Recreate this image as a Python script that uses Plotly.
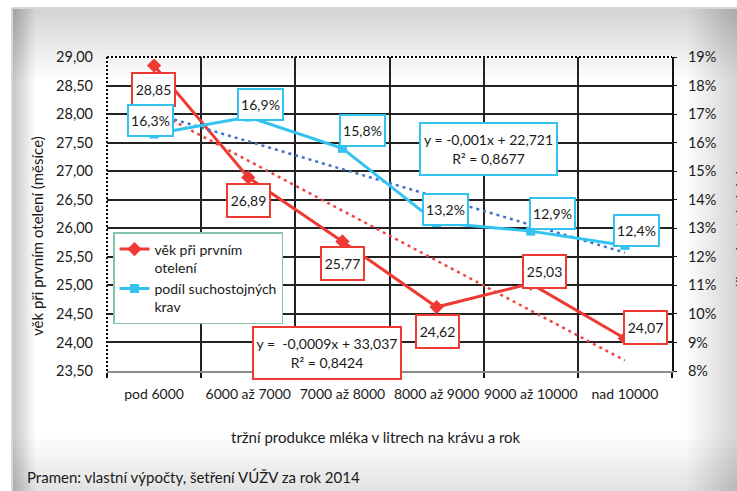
import numpy as np
import plotly.graph_objects as go

# --- data -------------------------------------------------------------
categories = ["pod 6000", "6000 až 7000", "7000 až 8000",
              "8000 až 9000", "9000 až 10000", "nad 10000"]
vek_otel = [28.85, 26.89, 25.77, 24.62, 25.03, 24.07]        # měsíce
podil_such = [16.3, 16.9, 15.8, 13.2, 12.9, 12.4]            # %

eq_vek = ["y =  -0,0009x + 33,037", "R² = 0,8424"]
eq_podil = ["y = -0,001x + 22,721", "R² = 0,8677"]

# --- style ------------------------------------------------------------
RED = "#EE3A33"
BLUE = "#33C3F0"
RED_TREND = "#F04444"
BLUE_TREND = "#4472C4"
FONT = "Lato"
TXT = "#1a1a1a"
W, H = 737, 491
L, R, T, B = 107, 672, 57, 371          # plot area in pixels

# label offsets (pixels) from each point
vek_off = [(-1, -24), (0, -23), (0, -22), (1, -24), (14, 12), (21, 11)]
podil_off = [(-4, 14), (12, 12), (20, 18), (9, 13), (22, 18), (12, 15)]


def px(x):
    return (x - L) / (R - L)


def py(y):
    return (B - y) / (B - T)


def comma(v, nd):
    return f"{v:.{nd}f}".replace(".", ",")


fig = go.Figure()

# linear trends
idx = np.arange(1, len(categories) + 1)
for vals, color, axis in [(vek_otel, RED_TREND, "y"), (podil_such, BLUE_TREND, "y2")]:
    k, q = np.polyfit(idx, vals, 1)
    fig.add_trace(go.Scatter(
        x=[categories[0], categories[-1]],
        y=[k * idx[0] + q, k * idx[-1] + q],
        mode="lines", yaxis=axis, showlegend=False, hoverinfo="skip",
        line=dict(color=color, width=2.5, dash="3px,4px"),
    ))

fig.add_trace(go.Scatter(
    x=categories, y=vek_otel, name="věk při prvním<br>otelení",
    mode="lines+markers", yaxis="y",
    line=dict(color=RED, width=3),
    marker=dict(symbol="diamond", size=11, color=RED),
))
fig.add_trace(go.Scatter(
    x=categories, y=podil_such, name="podíl suchostojných<br>krav",
    mode="lines+markers", yaxis="y2",
    line=dict(color=BLUE, width=3),
    marker=dict(symbol="square", size=9, color=BLUE),
))

annotations = []
for c, v, (dx, dy) in zip(categories, vek_otel, vek_off):
    annotations.append(dict(
        x=c, y=v, xref="x", yref="y", text=comma(v, 2), showarrow=False,
        xshift=dx, yshift=dy, width=41, height=31, borderpad=0,
        bordercolor=RED, borderwidth=2, bgcolor="white",
        font=dict(family=FONT, size=14, color=TXT),
    ))
for c, v, (dx, dy) in zip(categories, podil_such, podil_off):
    annotations.append(dict(
        x=c, y=v, xref="x", yref="y2", text=comma(v, 1) + "%", showarrow=False,
        xshift=dx, yshift=dy, width=43, height=29, borderpad=0,
        bordercolor=BLUE, borderwidth=2, bgcolor="white",
        font=dict(family=FONT, size=14, color=TXT),
    ))


def note(x, y, text, size=15, **kw):
    d = dict(x=px(x), y=py(y), xref="paper", yref="paper", showarrow=False,
             xanchor="center", yanchor="middle", text=text,
             font=dict(family=FONT, size=size, color=TXT))
    d.update(kw)
    return d


# trend equations
annotations.append(note(327, 353, "<br>".join(eq_vek), size=14,
                        width=146, height=50, borderpad=0,
                        bordercolor=RED, borderwidth=2, bgcolor="white"))
annotations.append(note(488, 149, "<br>".join(eq_podil), size=14,
                        width=135, height=50, borderpad=0,
                        bordercolor=BLUE, borderwidth=2, bgcolor="white"))

# axis titles and source note
annotations += [
    note(37, 236, "věk při prvním otelení (měsíce)", textangle=-90),
    note(741, 228, "podíl suchostojných krav", textangle=-90),
    note(376, 437, "tržní produkce mléka v litrech na krávu a rok"),
    note(25, 477, "Pramen: vlastní výpočty, šetření VÚŽV za rok 2014",
         xanchor="left"),
]

# background frame with soft shading towards the edges
shapes = [dict(type="rect", xref="paper", yref="paper", layer="below",
               x0=px(12), x1=px(760), y0=py(8), y1=py(500),
               fillcolor="white", line=dict(color="#b0b0b0", width=1))]
n = 14
for i in range(n):
    f = (i + 1) / n
    shapes.append(dict(type="rect", xref="paper", yref="paper", layer="below",
                       x0=px(13), x1=px(760), y0=py(9), y1=py(9 + 70 * f),
                       fillcolor="rgba(0,0,0,0.011)", line=dict(width=0)))
    shapes.append(dict(type="rect", xref="paper", yref="paper", layer="below",
                       x0=px(737 - 50 * f), x1=px(760), y0=py(9), y1=py(500),
                       fillcolor="rgba(0,0,0,0.012)", line=dict(width=0)))
    shapes.append(dict(type="rect", xref="paper", yref="paper", layer="below",
                       x0=px(13), x1=px(13 + 22 * f), y0=py(9), y1=py(500),
                       fillcolor="rgba(0,0,0,0.014)", line=dict(width=0)))
    shapes.append(dict(type="rect", xref="paper", yref="paper", layer="below",
                       x0=px(13), x1=px(760), y0=py(491 - 55 * f), y1=py(500),
                       fillcolor="rgba(0,0,0,0.008)", line=dict(width=0)))

# plot-area border: dotted left and top
for (x0, y0, x1, y1) in [(0, 0, 0, 1), (0, 1, 1, 1)]:
    shapes.append(dict(type="line", xref="paper", yref="paper", layer="between",
                       x0=x0, y0=y0, x1=x1, y1=y1, line=dict(color="white", width=2.5)))
    shapes.append(dict(type="line", xref="paper", yref="paper", layer="between",
                       x0=x0, y0=y0, x1=x1, y1=y1,
                       line=dict(color="black", width=2, dash="2px,2px")))

fig.update_layout(
    width=W, height=H,
    margin=dict(l=L, r=W - R, t=T, b=H - B),
    paper_bgcolor="white", plot_bgcolor="rgba(0,0,0,0)",
    separators=", ",
    font=dict(family=FONT, size=14, color=TXT),
    xaxis=dict(
        type="category", categoryorder="array", categoryarray=categories,
        range=[-0.5, 5.5], tickson="boundaries", tickangle=0,
        showgrid=True, gridcolor="#222", gridwidth=2,
        showline=True, linecolor="#8c8c8c", linewidth=2,
        ticks="outside", ticklen=5, tickcolor="#111", tickwidth=2,
        tickfont=dict(family=FONT, size=14, color=TXT),
        ticklabelstandoff=9,
    ),
    yaxis=dict(
        range=[23.5, 29], dtick=0.5, tickformat=".2f",
        showgrid=True, gridcolor="#222", gridwidth=2, zeroline=False,
        showline=False, ticks="",
        tickfont=dict(family=FONT, size=14.5, color=TXT),
        ticklabelstandoff=13,
    ),
    yaxis2=dict(
        overlaying="y", side="right", range=[8, 19], dtick=1,
        tickformat=".0f", ticksuffix="%", showgrid=False, zeroline=False,
        showline=True, linecolor="#111", linewidth=2,
        ticks="outside", ticklen=3, tickcolor="#111",
        tickfont=dict(family=FONT, size=14.5, color=TXT),
        ticklabelstandoff=8,
    ),
    legend=dict(
        x=px(113), y=py(232), xanchor="left", yanchor="top",
        bgcolor="white", bordercolor="#86c5a9", borderwidth=1.5,
        font=dict(family=FONT, size=14, color=TXT),
        valign="top", tracegroupgap=0,
    ),
    annotations=annotations,
    shapes=shapes,
)

fig.write_html("out.html")
